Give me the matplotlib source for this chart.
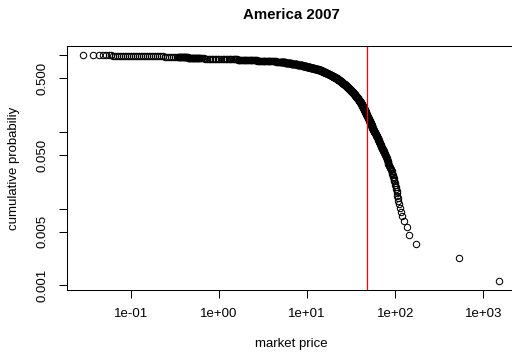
import numpy as np
import matplotlib
matplotlib.use("Agg")
import matplotlib.pyplot as plt
from matplotlib.ticker import FixedLocator, FixedFormatter, NullLocator

plt.rcParams['font.family'] = ['Liberation Sans', 'DejaVu Sans']

# Market prices (USD), grouped by price band
price_below_1 = [
    0.029, 0.0377, 0.0437, 0.0485, 0.0525, 0.056, 0.0598, 0.063, 0.0664, 0.070,
    0.0737, 0.0776, 0.0818, 0.0861, 0.0908, 0.0957, 0.1007, 0.106, 0.112, 0.118,
    0.124, 0.131, 0.138, 0.145, 0.153, 0.161, 0.170, 0.179, 0.189, 0.199,
    0.209, 0.220, 0.232, 0.245, 0.258, 0.272, 0.286, 0.302, 0.318, 0.335,
    0.344, 0.349, 0.354, 0.360, 0.365, 0.370, 0.376, 0.381, 0.387, 0.393,
    0.399, 0.405, 0.411, 0.417, 0.423, 0.429, 0.436, 0.442, 0.449, 0.455,
    0.462, 0.469, 0.476, 0.483, 0.490, 0.498, 0.505, 0.513, 0.520, 0.528,
    0.536, 0.544, 0.552, 0.560, 0.568, 0.577, 0.585, 0.594, 0.602, 0.611,
]
price_1_to_1_5 = [
    0.625, 0.651, 0.677, 0.705, 0.734, 0.764, 0.795, 0.827, 0.861, 0.896,
    0.933, 0.971, 1.01, 1.05, 1.10, 1.14, 1.19, 1.24, 1.29, 1.34, 1.39, 1.45,
]
price_1_5_to_5 = [
    1.50, 1.53, 1.57, 1.60, 1.64, 1.68, 1.71, 1.75, 1.79, 1.83,
    1.87, 1.92, 1.96, 2.00, 2.05, 2.10, 2.14, 2.19, 2.24, 2.29,
    2.34, 2.40, 2.45, 2.51, 2.56, 2.62, 2.68, 2.74, 2.80, 2.87,
    2.93, 3.00, 3.07, 3.14, 3.21, 3.28, 3.35, 3.43, 3.51, 3.59,
    3.67, 3.75, 3.84, 3.92, 4.01, 4.10, 4.20, 4.29, 4.39, 4.49,
    4.59, 4.69, 4.80, 4.90,
]
price_5_to_8 = [
    5.00, 5.04, 5.08, 5.11, 5.15, 5.19, 5.23, 5.27, 5.31, 5.35,
    5.39, 5.43, 5.47, 5.51, 5.56, 5.60, 5.64, 5.68, 5.73, 5.77,
    5.81, 5.86, 5.90, 5.95, 5.99, 6.04, 6.08, 6.13, 6.18, 6.22,
    6.27, 6.32, 6.37, 6.41, 6.46, 6.51, 6.56, 6.61, 6.66, 6.71,
    6.76, 6.82, 6.87, 6.92, 6.97, 7.03, 7.08, 7.13, 7.19, 7.24,
    7.30, 7.35, 7.41, 7.47, 7.52, 7.58, 7.64, 7.70, 7.76, 7.82,
    7.87, 7.93, 8.00, 8.06, 8.12, 8.18, 8.24, 8.30,
]
price_8_to_14 = [
    8.37, 8.42, 8.46, 8.51, 8.56, 8.61, 8.66, 8.71, 8.76, 8.81,
    8.86, 8.91, 8.96, 9.01, 9.06, 9.11, 9.16, 9.22, 9.27, 9.32,
    9.37, 9.43, 9.48, 9.53, 9.59, 9.64, 9.70, 9.75, 9.81, 9.86,
    9.92, 9.98, 10.03, 10.09, 10.15, 10.20, 10.26, 10.32, 10.38, 10.44,
    10.50, 10.56, 10.62, 10.68, 10.74, 10.80, 10.86, 10.92, 10.98, 11.04,
    11.11, 11.17, 11.23, 11.30, 11.36, 11.42, 11.49, 11.55, 11.62, 11.68,
    11.75, 11.82, 11.88, 11.95, 12.02, 12.09, 12.16, 12.22, 12.29, 12.36,
    12.43, 12.50, 12.57, 12.65, 12.72, 12.79, 12.86, 12.94, 13.01, 13.08,
    13.16, 13.23, 13.31, 13.38, 13.46, 13.54, 13.61, 13.69, 13.77, 13.85,
    13.92, 14.00,
]
price_14_to_22 = [
    14.05, 14.10, 14.15, 14.20, 14.25, 14.30, 14.35, 14.40, 14.45, 14.50,
    14.55, 14.60, 14.65, 14.70, 14.75, 14.80, 14.86, 14.91, 14.96, 15.01,
    15.06, 15.12, 15.17, 15.22, 15.28, 15.33, 15.38, 15.44, 15.49, 15.55,
    15.60, 15.66, 15.71, 15.77, 15.82, 15.88, 15.93, 15.99, 16.05, 16.10,
    16.16, 16.22, 16.27, 16.33, 16.39, 16.45, 16.50, 16.56, 16.62, 16.68,
    16.74, 16.80, 16.86, 16.92, 16.98, 17.04, 17.10, 17.16, 17.22, 17.28,
    17.34, 17.40, 17.46, 17.53, 17.59, 17.65, 17.71, 17.77, 17.84, 17.90,
    17.96, 18.03, 18.09, 18.15, 18.22, 18.28, 18.35, 18.41, 18.48, 18.54,
    18.61, 18.67, 18.74, 18.80, 18.87, 18.94, 19.00, 19.07, 19.14, 19.20,
    19.27, 19.34, 19.41, 19.48, 19.55, 19.62, 19.69, 19.75, 19.82, 19.89,
    19.96, 20.03, 20.10, 20.17, 20.24, 20.31, 20.39, 20.46, 20.53, 20.60,
    20.67, 20.74, 20.82, 20.89, 20.96, 21.04, 21.11, 21.18, 21.26, 21.33,
    21.41, 21.48, 21.56, 21.63,
]
price_22_to_31 = [
    21.70, 21.76, 21.82, 21.88, 21.94, 22.00, 22.06, 22.12, 22.18, 22.24,
    22.30, 22.36, 22.42, 22.48, 22.55, 22.61, 22.67, 22.73, 22.80, 22.86,
    22.92, 22.99, 23.05, 23.11, 23.18, 23.24, 23.31, 23.37, 23.43, 23.50,
    23.56, 23.63, 23.70, 23.76, 23.83, 23.89, 23.96, 24.03, 24.09, 24.16,
    24.23, 24.29, 24.36, 24.43, 24.50, 24.56, 24.63, 24.70, 24.77, 24.84,
    24.91, 24.98, 25.05, 25.12, 25.19, 25.26, 25.33, 25.40, 25.47, 25.54,
    25.61, 25.68, 25.75, 25.82, 25.90, 25.97, 26.04, 26.11, 26.19, 26.26,
    26.33, 26.41, 26.48, 26.55, 26.63, 26.70, 26.78, 26.85, 26.93, 27.00,
    27.08, 27.15, 27.23, 27.30, 27.38, 27.46, 27.53, 27.61, 27.69, 27.76,
    27.84, 27.92, 28.00, 28.07, 28.15, 28.23, 28.31, 28.39, 28.47, 28.55,
    28.63, 28.71, 28.79, 28.86, 28.94, 29.02, 29.11, 29.19, 29.27, 29.35,
    29.43, 29.51, 29.59, 29.67, 29.76, 29.84, 29.92, 30.00, 30.09, 30.17,
    30.25, 30.34, 30.42, 30.50, 30.59, 30.67, 30.75, 30.84, 30.92, 31.00,
]
price_31_to_40 = [
    31.10, 31.18, 31.27, 31.35, 31.44, 31.52, 31.61, 31.70, 31.78, 31.87,
    31.96, 32.04, 32.13, 32.22, 32.31, 32.39, 32.48, 32.57, 32.66, 32.75,
    32.84, 32.93, 33.02, 33.11, 33.20, 33.29, 33.38, 33.47, 33.57, 33.66,
    33.75, 33.84, 33.94, 34.03, 34.12, 34.22, 34.31, 34.40, 34.50, 34.59,
    34.69, 34.78, 34.88, 34.98, 35.07, 35.17, 35.26, 35.36, 35.46, 35.56,
    35.65, 35.75, 35.85, 35.95, 36.05, 36.15, 36.25, 36.35, 36.45, 36.55,
    36.65, 36.75, 36.85, 36.95, 37.05, 37.15, 37.26, 37.36, 37.46, 37.56,
    37.67, 37.77, 37.88, 37.98, 38.08, 38.19, 38.29, 38.40, 38.51, 38.61,
    38.72, 38.83, 38.93, 39.04, 39.15, 39.26, 39.36, 39.47, 39.58, 39.69,
    39.80, 39.91,
]
price_40_to_48 = [
    40.00, 40.10, 40.19, 40.29, 40.39, 40.49, 40.58, 40.68, 40.78, 40.88,
    40.98, 41.08, 41.18, 41.28, 41.38, 41.48, 41.58, 41.68, 41.78, 41.88,
    41.98, 42.09, 42.19, 42.29, 42.39, 42.50, 42.60, 42.70, 42.81, 42.91,
    43.02, 43.12, 43.23, 43.33, 43.44, 43.54, 43.65, 43.75, 43.86, 43.97,
    44.07, 44.18, 44.29, 44.39, 44.50, 44.61, 44.72, 44.83, 44.94, 45.04,
    45.15, 45.26, 45.37, 45.48, 45.59, 45.70, 45.81, 45.93, 46.04, 46.15,
    46.26, 46.37, 46.49, 46.60, 46.71, 46.83, 46.94, 47.05, 47.17, 47.28,
    47.40, 47.51,
]
price_48_to_56 = [
    47.60, 47.75, 47.90, 48.06, 48.21, 48.37, 48.52, 48.68, 48.83, 48.99,
    49.15, 49.30, 49.46, 49.62, 49.78, 49.94, 50.10, 50.26, 50.42, 50.58,
    50.74, 50.91, 51.07, 51.23, 51.40, 51.56, 51.73, 51.89, 52.06, 52.23,
    52.39, 52.56, 52.73, 52.90, 53.07, 53.24, 53.41, 53.58, 53.75, 53.92,
    54.10, 54.27, 54.44, 54.62, 54.79, 54.97, 55.14, 55.32, 55.50, 55.67,
    55.85, 56.03, 56.21,
]
price_56_to_70 = [
    56.50, 56.83, 57.16, 57.49, 57.82, 58.16, 58.49, 58.83, 59.17, 59.51,
    59.86, 60.20, 60.55, 60.90, 61.26, 61.61, 61.97, 62.33, 62.69, 63.05,
    63.42, 63.79, 64.16, 64.53, 64.90, 65.28, 65.66, 66.04, 66.42, 66.81,
    67.20, 67.59, 67.98, 68.37, 68.77, 69.17, 69.57, 69.97,
]
price_70_to_84 = [
    70.40, 70.99, 71.59, 72.20, 72.81, 73.43, 74.05, 74.67, 75.30, 75.94,
    76.58, 77.23, 77.88, 78.54, 79.20, 79.87, 80.55, 81.23, 81.91, 82.60, 83.30,
]
price_84_to_110 = [
    84, 85, 86, 87, 88, 89, 90, 91, 92, 93, 94, 95,
    96, 97, 98, 99, 100, 101.5, 103, 104, 105, 106, 108, 109,
]
price_top = [111, 113, 116, 120, 127, 135, 142, 174, 530, 1507]

price_cutoff = 48

x_ticks = [0.1, 1, 10, 100, 1000]
x_tick_labels = ["1e-01", "1e+00", "1e+01", "1e+02", "1e+03"]
y_ticks = [0.001, 0.005, 0.01, 0.05, 0.1, 0.5, 1]
y_tick_labels = ["0.001", "0.005", "", "0.050", "", "0.500", ""]

prices = np.sort(np.concatenate([
    price_below_1, price_1_to_1_5, price_1_5_to_5, price_5_to_8, price_8_to_14,
    price_14_to_22, price_22_to_31, price_31_to_40, price_40_to_48,
    price_48_to_56, price_56_to_70, price_70_to_84, price_84_to_110, price_top,
]))
n = len(prices)
ccdf = np.arange(n, 0, -1) / n   # P(X >= x)


def log_limits(lo, hi, frac=0.04):
    a, b = np.log10(lo), np.log10(hi)
    d = frac * (b - a)
    return 10 ** (a - d), 10 ** (b + d)


fig = plt.figure(figsize=(5.12, 3.53), dpi=100)
ax = fig.add_axes([0.1303, 0.1782, 0.8768, 0.6909])
ax.set_xscale('log')
ax.set_yscale('log')

ax.plot(prices, ccdf, linestyle='none', marker='o', markersize=4.6,
        markerfacecolor='none', markeredgecolor='black', markeredgewidth=0.75)
ax.axvline(price_cutoff, color='#ff0000', linewidth=0.9)

ax.set_xlim(*log_limits(prices.min(), prices.max()))
ax.set_ylim(*log_limits(ccdf.min(), ccdf.max()))

ax.xaxis.set_major_locator(FixedLocator(x_ticks))
ax.xaxis.set_major_formatter(FixedFormatter(x_tick_labels))
ax.yaxis.set_major_locator(FixedLocator(y_ticks))
ax.yaxis.set_major_formatter(FixedFormatter(y_tick_labels))
ax.xaxis.set_minor_locator(NullLocator())
ax.yaxis.set_minor_locator(NullLocator())

ax.tick_params(direction='out', length=5.8, width=0.75, labelsize=9.5,
               pad=7, colors='black')
for lab in ax.get_yticklabels():
    lab.set_rotation(90)
    lab.set_va('center')
    lab.set_ha('right')

for sp in ax.spines.values():
    sp.set_linewidth(0.75)
    sp.set_color('black')

ax.set_xlabel('market price', fontsize=9.5)
ax.xaxis.set_label_coords(0.5, -0.222)
ax.xaxis.label.set_va('center')
ax.set_ylabel('cumulative probabiliy', fontsize=9.5)
ax.yaxis.set_label_coords(-0.117, 0.5)
ax.yaxis.label.set_va('center')

fig.text(0.57, 1 - 15 / 353, 'America 2007', ha='center', va='center',
         fontsize=10.8, fontweight='bold')

fig.savefig('out.png', dpi=100)
